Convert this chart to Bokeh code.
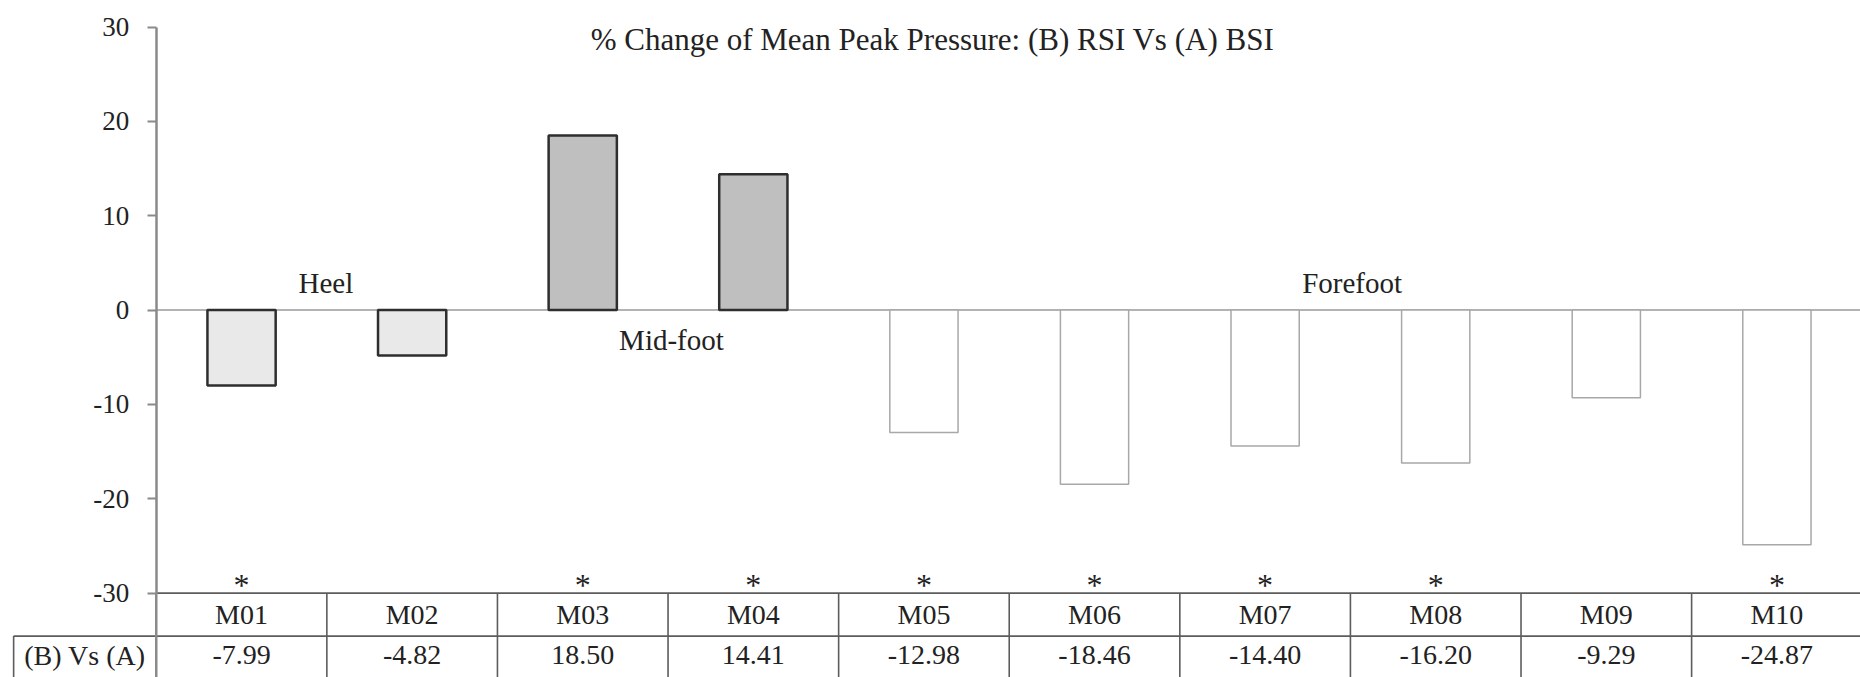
from bokeh.plotting import figure
from bokeh.models import ColumnDataSource, Range1d, FixedTicker, PrintfTickFormatter
from bokeh.core.properties import value
from bokeh.embed import file_html
from bokeh.resources import INLINE

# ---- data ----
categories = ["M01", "M02", "M03", "M04", "M05", "M06", "M07", "M08", "M09", "M10"]
values = [-7.99, -4.82, 18.50, 14.41, -12.98, -18.46, -14.40, -16.20, -9.29, -24.87]
value_labels = ["-7.99", "-4.82", "18.50", "14.41", "-12.98", "-18.46", "-14.40", "-16.20", "-9.29", "-24.87"]
significant = [True, False, True, True, True, True, True, True, False, True]
regions = ["Heel", "Heel", "Mid-foot", "Mid-foot", "Forefoot", "Forefoot",
           "Forefoot", "Forefoot", "Forefoot", "Forefoot"]
region_names = ["Heel", "Mid-foot", "Forefoot"]
title_text = "% Change of Mean Peak Pressure: (B) RSI Vs (A) BSI"
row_label = "(B) Vs (A)"
y_ticks = [-30, -20, -10, 0, 10, 20, 30]

# ---- styles ----
region_fill = {"Heel": "#e9e9e9", "Mid-foot": "#bfbfbf", "Forefoot": "#ffffff"}
region_line = {"Heel": "#2e2e2e", "Mid-foot": "#2e2e2e", "Forefoot": "#a8a8a8"}
region_lw = {"Heel": 2.5, "Mid-foot": 2.5, "Forefoot": 1.5}
FONT = value("Liberation Serif")
TXT = "#222222"
GRID = "#5c5c5c"

n = len(categories)
y_min, y_max = min(y_ticks), max(y_ticks)
row_sep = -34.56
bottom = -41.0
left_cell = -0.836

p = figure(width=1860, height=677,
           x_range=Range1d(-0.913, 9.990), y_range=Range1d(-38.95, 32.82),
           output_backend="svg", toolbar_location=None,
           x_axis_location=None, y_axis_location="left",
           min_border=0, outline_line_color=None)
p.title.visible = False
p.grid.visible = False
p.background_fill_color = "white"
p.border_fill_color = "white"

ax = p.yaxis[0]
ax.fixed_location = 0
ax.bounds = (y_min, y_max)
ax.ticker = FixedTicker(ticks=y_ticks)
ax.formatter = PrintfTickFormatter(format="%d")
ax.minor_tick_line_color = None
ax.major_tick_out = 9
ax.major_tick_in = 0
ax.axis_line_color = "#8a8a8a"
ax.axis_line_width = 2.5
ax.major_tick_line_color = "#8a8a8a"
ax.major_tick_line_width = 2
ax.major_label_text_font = "Liberation Serif"
ax.major_label_text_font_size = "27px"
ax.major_label_text_color = TXT
ax.major_label_standoff = 18

xs = [i + 0.5 for i in range(n)]
src = ColumnDataSource(dict(
    x=xs, top=values,
    fill=[region_fill[r] for r in regions],
    line=[region_line[r] for r in regions],
    lw=[region_lw[r] for r in regions],
))

# zero line
p.segment(x0=[0], y0=[0], x1=[n], y1=[0], line_color="#9a9a9a", line_width=1.5)

p.vbar(x="x", top="top", bottom=0, width=0.40, fill_color="fill",
       line_color="line", line_width="lw", source=src)

# table lines
p.segment(x0=[0, left_cell], y0=[y_min, row_sep], x1=[n, n], y1=[y_min, row_sep],
          line_color=GRID, line_width=1.6)
vx = list(range(1, n + 1))
p.segment(x0=vx, y0=[y_min] * len(vx), x1=vx, y1=[bottom] * len(vx),
          line_color=GRID, line_width=1.6)
p.segment(x0=[0], y0=[y_min], x1=[0], y1=[bottom], line_color="#8a8a8a", line_width=2.5)
p.segment(x0=[left_cell], y0=[row_sep], x1=[left_cell], y1=[bottom],
          line_color=GRID, line_width=1.6)

# table texts
p.text(x=xs, y=[(y_min + row_sep) / 2] * n, text=categories, text_font=FONT,
       text_font_size="28px", text_align="center", text_baseline="middle", text_color=TXT)
p.text(x=xs, y=[-36.6] * n, text=value_labels, text_font=FONT,
       text_font_size="28px", text_align="center", text_baseline="middle", text_color=TXT)
p.text(x=[left_cell / 2], y=[-36.6], text=[row_label], text_font=FONT,
       text_font_size="28px", text_align="center", text_baseline="middle", text_color=TXT)

# significance stars
sx = [xs[i] for i in range(n) if significant[i]]
p.text(x=sx, y=[-29.1] * len(sx), text=["*"] * len(sx), text_font=FONT,
       text_font_size="32px", text_align="center", text_baseline="middle", text_color=TXT)

# region labels
p.text(x=[0.994, 3.02, 7.01], y=[2.92, -3.2, 2.92], text=region_names, text_font=FONT,
       text_font_size="29px", text_align="center", text_baseline="middle", text_color=TXT)

# title
p.text(x=[4.55], y=[28.7], text=[title_text], text_font=FONT,
       text_font_size="31px", text_align="center", text_baseline="middle", text_color=TXT)

open("out.html", "w").write(file_html(p, INLINE))
